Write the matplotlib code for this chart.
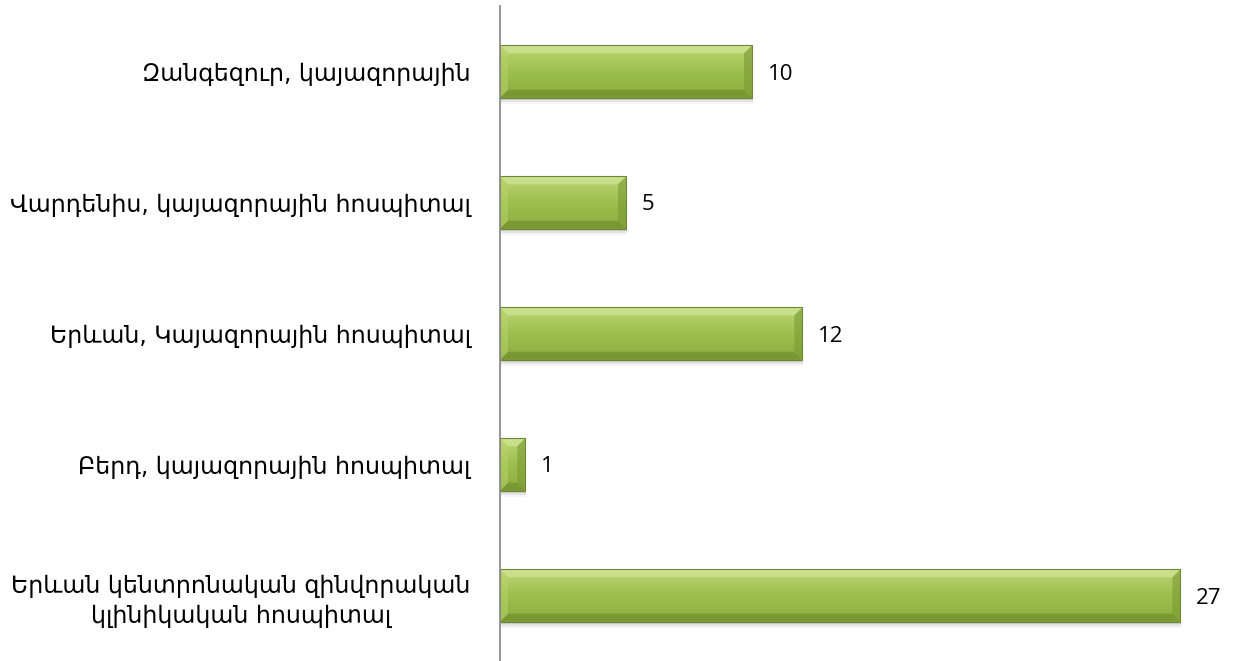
import numpy as np
import matplotlib.pyplot as plt
from matplotlib.patches import Polygon, Rectangle
from matplotlib.colors import LinearSegmentedColormap

categories = [
    "Երևան կենտրոնական զինվորական\nկլինիկական հոսպիտալ",
    "Բերդ, կայազորային հոսպիտալ",
    "Երևան, Կայազորային հոսպիտալ",
    "Վարդենիս, կայազորային հոսպիտալ",
    "Զանգեզուր, կայազորային",
]
values = [27, 1, 12, 5, 10]

bar_h = 0.4
bevel_px = 8

fig = plt.figure(figsize=(12.35, 6.61), dpi=100)
ax = fig.add_axes([500 / 1235, 0, 735 / 1235, 655 / 661])
ax.set_xlim(0, 29.17)
ax.set_ylim(-0.5, len(values) - 0.5)

ypos = np.arange(len(values))
bars = ax.barh(ypos, values, height=bar_h, color='none', edgecolor='none')

# pixel -> data sizes for the bevel and shadow
px_x = 29.17 / 735
px_y = len(values) / 655
bx, by = bevel_px * px_x, bevel_px * px_y

grad = LinearSegmentedColormap.from_list('g', ['#bcd775', '#9dbf4e', '#8cad40'])
for b in bars:
    x0, y0 = b.get_x(), b.get_y()
    w, h = b.get_width(), b.get_height()
    # soft shadow
    for i, a in enumerate([0.10, 0.07, 0.04]):
        ax.add_patch(Rectangle((x0 + 1 * px_x, y0 - (2 + 2 * i) * px_y), w, h,
                               facecolor='black', alpha=a, lw=0, zorder=1))
    # vertical gradient body
    ax.imshow(np.linspace(0, 1, 64).reshape(-1, 1), cmap=grad, aspect='auto',
              extent=[x0, x0 + w, y0, y0 + h], origin='upper', zorder=2)
    bxx = min(bx, w / 2)
    inner = [(x0 + bxx, y0 + by), (x0 + w - bxx, y0 + by),
             (x0 + w - bxx, y0 + h - by), (x0 + bxx, y0 + h - by)]
    outer = [(x0, y0), (x0 + w, y0), (x0 + w, y0 + h), (x0, y0 + h)]
    # bevel faces: bottom, right, top, left
    faces = [
        ([outer[0], outer[1], inner[1], inner[0]], '#6f8d2c', 0.65),
        ([outer[1], outer[2], inner[2], inner[1]], '#7c9a34', 0.6),
        ([outer[2], outer[3], inner[3], inner[2]], '#d6e8a0', 0.6),
        ([outer[3], outer[0], inner[0], inner[3]], '#b9d46c', 0.5),
    ]
    for pts, c, a in faces:
        ax.add_patch(Polygon(pts, closed=True, facecolor=c, alpha=a, lw=0, zorder=3))
    ax.add_patch(Rectangle((x0, y0), w, h, facecolor='none',
                           edgecolor='#6e8736', lw=0.8, zorder=4))

for v, y in zip(values, ypos):
    ax.text(v + 16 * px_x, y, str(v), va='center_baseline', ha='left',
            fontsize=16, family='Open Sans', color='black')

ax.set_yticks(ypos)
ax.set_yticklabels(categories, fontsize=17, family='DejaVu Sans',
                   multialignment='center', linespacing=1.3)
ax.tick_params(axis='y', length=0, pad=21)
ax.set_xticks([])
for s in ['top', 'right', 'bottom']:
    ax.spines[s].set_visible(False)
ax.spines['left'].set_color('#8c8c8c')
ax.spines['left'].set_linewidth(1.3)
ax.spines['left'].set_zorder(5)

fig.savefig('out.png', dpi=100)
